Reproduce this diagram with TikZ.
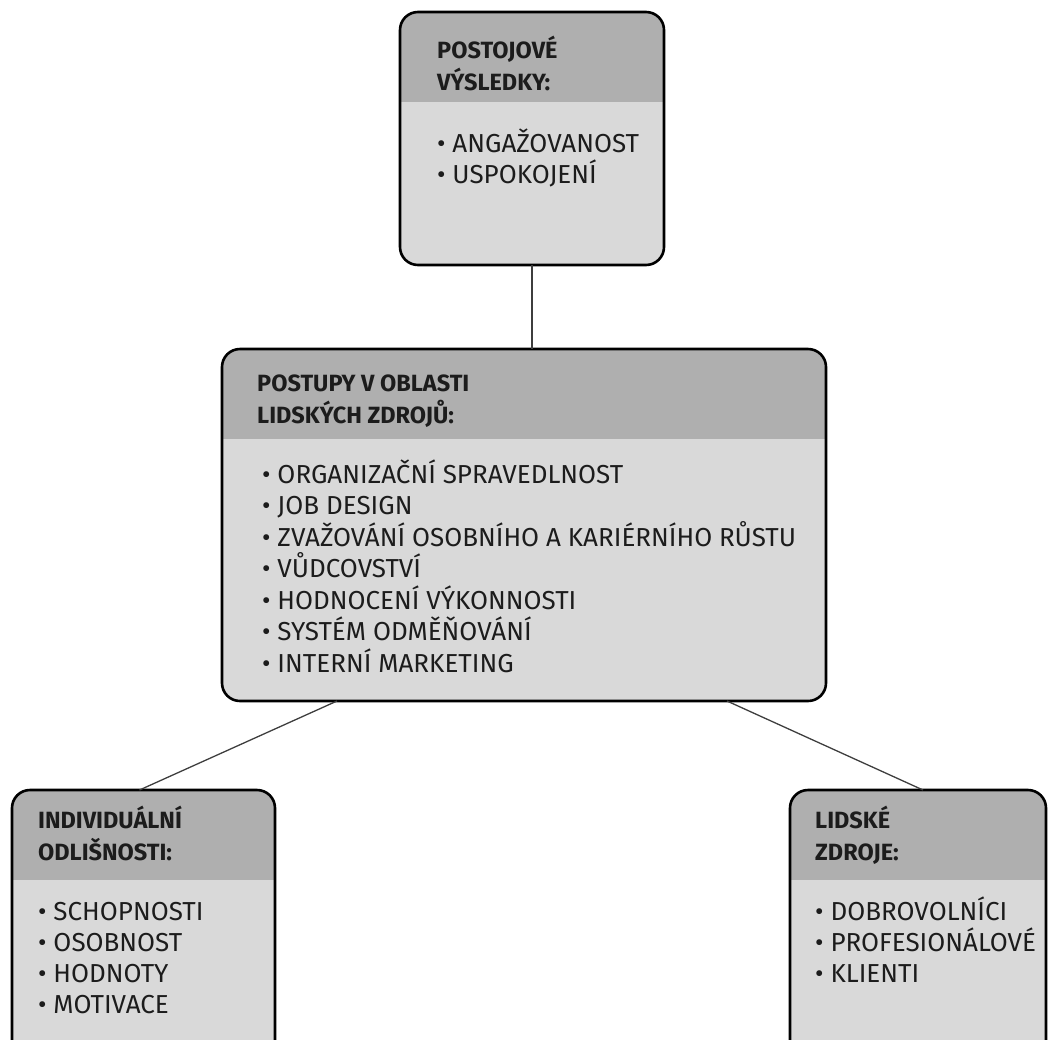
\documentclass[tikz,border=0pt]{standalone}
\usepackage{fontspec}
\setmainfont{Fira Sans}
\usetikzlibrary{positioning,calc}
\definecolor{ink}{HTML}{1C1C1C}
\definecolor{hdgray}{HTML}{AFAFAF}
\definecolor{bdgray}{HTML}{D9D9D9}
\tikzset{
  box/.style={draw=black, line width=2.6pt, rounded corners=18pt, fill=bdgray, inner sep=0pt, outer sep=0pt, anchor=north west,
              path picture={\fill[hdgray, sharp corners] (path picture bounding box.north west) rectangle ([yshift=-90pt]path picture bounding box.north east);}},
  head/.style={font=\bfseries\fontsize{23.5}{31.5}\selectfont, text=ink, anchor=base west, inner sep=0pt, align=left},
  item/.style={font=\fontsize{26}{31.5}\selectfont, text=ink, anchor=base west, inner sep=0pt},
  link/.style={draw=ink!85, line width=1.3pt},
}
\def\resItems{ANGAŽOVANOST, USPOKOJENÍ}
\def\hrmItems{ORGANIZAČNÍ SPRAVEDLNOST, JOB DESIGN, ZVAŽOVÁNÍ OSOBNÍHO A KARIÉRNÍHO RŮSTU, VŮDCOVSTVÍ,
  HODNOCENÍ VÝKONNOSTI, SYSTÉM ODMĚŇOVÁNÍ, INTERNÍ MARKETING}
\def\indItems{SCHOPNOSTI, OSOBNOST, HODNOTY, MOTIVACE}
\def\hrItems{DOBROVOLNÍCI, PROFESIONÁLOVÉ, KLIENTI}

\begin{document}
\begin{tikzpicture}[x=1pt, y=-1pt]
  \useasboundingbox (0,0) rectangle (1048,1039);
  % boxes
  \node[box, minimum width=264pt, minimum height=253pt] (res) at (400,12) {};
  \node[box, minimum width=604pt, minimum height=352pt] (hrm) at (222,349) {};
  \node[box, minimum width=263pt, minimum height=270pt] (ind) at (12,790) {};
  \node[box, minimum width=256pt, minimum height=270pt] (hr) at (790,790) {};
  % headings (anchored on the last line)
  \node[head] (res-head) at (437,90) {POSTOJOVÉ\\VÝSLEDKY:};
  \node[head] (hrm-head) at (257,423) {POSTUPY V OBLASTI\\LIDSKÝCH ZDROJŮ:};
  \node[head] (ind-head) at (38,860) {INDIVIDUÁLNÍ\\ODLIŠNOSTI:};
  \node[head] (hr-head) at (815,860) {LIDSKÉ\\ZDROJE:};
  % bullet lists
  \foreach \t [count=\k] in \resItems {
    \node[item] (res-\k) at (437,{152+(\k-1)*31}) {• \t};
  }
  \foreach \t [count=\k] in \hrmItems {
    \node[item] (hrm-\k) at (262,{483+(\k-1)*31.5}) {• \t};
  }
  \foreach \t [count=\k] in \indItems {
    \node[item] (ind-\k) at (38,{920+(\k-1)*31}) {• \t};
  }
  \foreach \t [count=\k] in \hrItems {
    \node[item] (hr-\k) at (815,{920+(\k-1)*31}) {• \t};
  }
  % connectors
  \draw[link] (res.south) -- (res.south |- hrm.north);
  \draw[link] ([xshift=115pt]hrm.south west) -- ([xshift=-4pt]ind.north);
  \draw[link] ([xshift=-99pt]hrm.south east) -- ([xshift=5pt]hr.north);
\end{tikzpicture}
\end{document}
